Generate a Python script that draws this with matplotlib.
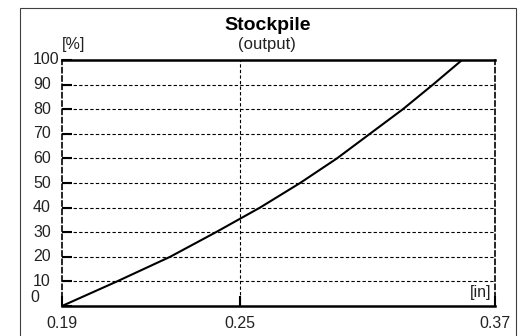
import matplotlib.pyplot as plt
from matplotlib.patches import Rectangle
from matplotlib.ticker import NullLocator, FixedLocator
from matplotlib.transforms import blended_transform_factory

plt.rcParams['font.family'] = ['Liberation Sans', 'DejaVu Sans']

# cumulative passing of the stockpile output vs. size
size_in = [0.19, 0.2068, 0.2244, 0.2408, 0.2577, 0.2741, 0.2901, 0.3052, 0.3211, 0.3363, 0.3517]
passing = [0, 10, 20, 30, 40, 50, 60, 70, 80, 90, 100]

x_ticks = [0.19, 0.25, 0.37]
x_labels = ["0.19", "0.25", "0.37"]
y_ticks = [0, 10, 20, 30, 40, 50, 60, 70, 80, 90, 100]

W, H = 518, 336
fig = plt.figure(figsize=(W / 100, H / 100), dpi=100)

# outer panel border
fig.patches.append(Rectangle((20 / W, -0.1), 496 / W, 1.1 - 8 / H,
                             transform=fig.transFigure, fill=False,
                             edgecolor="#404040", linewidth=0.8))

ax = fig.add_axes([62 / W, 1 - 306 / H, 433 / W, 246 / H])
ax.plot(size_in, passing, color="black", linewidth=1.5)

ax.set_xscale("log")
ax.set_xlim(0.19, 0.37)
ax.set_ylim(0, 100)
ax.xaxis.set_major_locator(FixedLocator(x_ticks))
ax.xaxis.set_minor_locator(NullLocator())
ax.set_xticklabels(x_labels)
ax.set_yticks(y_ticks)
ax.set_yticklabels([])

txt = "#222222"
ax.tick_params(axis="both", direction="in", length=7, width=1.5, labelsize=11.5,
               colors="black", labelcolor=txt)
ax.tick_params(axis="x", pad=7)

# y labels sit left-aligned in a column
ytrans = blended_transform_factory(fig.transFigure, ax.transData)
for v in y_ticks[1:]:
    ax.text(33 / W, v, str(v), transform=ytrans, fontsize=11.5, color=txt,
            ha="left", va="center")
fig.text(30 / W, 1 - 297 / H, "0", fontsize=11.5, color=txt, ha="left", va="center")

# dashed grid
dash = (0, (3, 2))
for v in y_ticks[1:-1]:
    ax.axhline(v, color="black", linewidth=0.8, linestyle=dash, zorder=0)
ax.axvline(0.25, color="black", linewidth=0.8, linestyle=dash, zorder=0)

for side in ("top", "bottom"):
    ax.spines[side].set_linewidth(1.8)
for side in ("left", "right"):
    ax.spines[side].set_linewidth(1.2)
    ax.spines[side].set_linestyle(dash)

fig.text(62 / W, 1 - 45 / H, "[%]", fontsize=11.5, color=txt, ha="left", va="center")
fig.text(491 / W, 1 - 292 / H, "[in]", fontsize=11.5, color=txt, ha="right", va="center")

fig.text(268 / W, 1 - 25 / H, "Stockpile", fontsize=14, fontweight="bold",
         ha="center", va="center")
fig.text(267 / W, 1 - 45 / H, "(output)", fontsize=12, color=txt,
         ha="center", va="center")

fig.savefig("out.png", dpi=100)
